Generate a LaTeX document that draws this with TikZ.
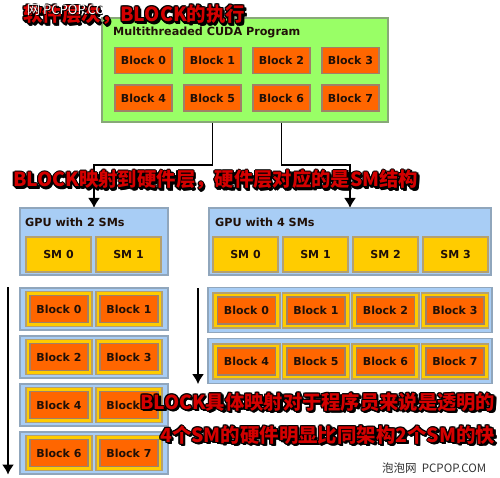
\documentclass[tikz,border=0pt]{standalone}
\usepackage{fontspec}
\usepackage{graphicx}
\setmainfont{DejaVu Sans}
\newfontfamily\cjk{Noto Sans CJK SC}
\usetikzlibrary{arrows.meta}

\definecolor{progfill}{HTML}{99FF66}
\definecolor{progline}{HTML}{88A878}
\definecolor{blkfill}{HTML}{FF6600}
\definecolor{blkline}{HTML}{A08068}
\definecolor{gpufill}{HTML}{A8CDF5}
\definecolor{gpuline}{HTML}{90A6BC}
\definecolor{smfill}{HTML}{FFCC00}
\definecolor{smline}{HTML}{B4A070}
\definecolor{hotred}{HTML}{D40000}
\definecolor{inktext}{HTML}{201008}

\tikzset{
  boxfont/.style={font=\bfseries\fontsize{11}{13}\selectfont,text=inktext},
  prog/.style={draw=progline,fill=progfill,line width=1.5pt},
  blk/.style={draw=blkline,fill=blkfill,line width=1.5pt,inner sep=0pt,
    minimum width=57,minimum height=26,boxfont},
  blkin/.style={draw=blkline,fill=blkfill,line width=1.2pt,inner sep=0pt,
    minimum width=58,minimum height=27,boxfont},
  gpu/.style={draw=gpuline,fill=gpufill,line width=1.2pt},
  sm/.style={draw=smline,fill=smfill,line width=1.2pt,inner sep=0pt,boxfont},
  boxtitle/.style={anchor=west,inner sep=0pt,boxfont},
  conn/.style={-{Latex[length=10pt,width=12pt]},draw=black,line width=1.8pt},
  hot/.style={anchor=west,inner sep=0pt,text=hotred,
    font=\cjk\bfseries\fontsize{20}{24}\selectfont},
  hotshade/.style={hot,text=black},
  stamp/.style={anchor=west,inner sep=0pt,text=black!80,
    font=\cjk\fontsize{11.5}{13}\selectfont}
}

% red caption with dark outline and shadow, squeezed to a given width
\newcommand{\hotlabel}[4]{%
  \foreach \dx/\dy in {-1.2/0,1.2/0,0/1.2,0/-1.2,-.9/.9,.9/.9,-.9/-.9,.9/-.9,
      1.8/-1.8,2.4/-2.4,2.4/-1.2,1.2/-2.4}
    \node[hotshade,xshift=\dx pt,yshift=\dy pt] at (#2) {\resizebox{#3pt}{!}{#4}};
  \node[hot] (#1) at (#2) {\resizebox{#3pt}{!}{#4}};}

\begin{document}
\begin{tikzpicture}[x=1pt,y=-1pt]
    \useasboundingbox[fill=white] (0,0) rectangle (500,478);

    %programma
    \node[prog,minimum width=286,minimum height=104] (prog) at (245,70) {};
    \node[boxtitle,font=\bfseries\fontsize{11.2}{13}\selectfont] (progtitle) at (113,32) {Multithreaded CUDA Program};
    \foreach \r in {0,1}{
        \foreach \c in {0,...,3}{
            \pgfmathtruncatemacro\n{4*\r+\c}
            \node[blk] (blk\n) at ({143.5+69*\c},{60.5+37.5*\r}) {Block \n};
        }
    }

    %collegamenti
    \draw[conn] (prog.south -| blk5) -- ++(0,42) -| (94,208);
    \draw[conn] (prog.south -| blk6) -- ++(0,42) -| (350,208);

    %GPU con 2 SM
    \node[gpu,minimum width=148,minimum height=67] (gpuA) at (94,241.5) {};
    \node[boxtitle,font=\bfseries\fontsize{11.2}{13}\selectfont] (gpuAtitle) at (25,222) {GPU with 2 SMs};
    \foreach \c in {0,1}
        \node[sm,minimum width=65,minimum height=35] (smA\c) at ({58.5+70*\c},254.5) {SM \c};

    %GPU con 4 SM
    \node[gpu,minimum width=282,minimum height=67] (gpuB) at (350,241.5) {};
    \node[boxtitle,font=\bfseries\fontsize{11.2}{13}\selectfont] (gpuBtitle) at (215,222) {GPU with 4 SMs};
    \foreach \c in {0,...,3}
        \node[sm,minimum width=65,minimum height=35] (smB\c) at ({245.5+70*\c},254.5) {SM \c};

    %blocchi su 2 SM
    \foreach \r in {0,...,3}{
        \node[gpu,minimum width=148,minimum height=42] (rowA\r) at (94,{309+48*\r}) {};
        \foreach \c in {0,1}{
            \pgfmathtruncatemacro\n{2*\r+\c}
            \node[sm,minimum width=66,minimum height=35] (slotA\n) at ({59+70*\c},{309+48*\r}) {};
            \node[blkin] (subA\n) at (slotA\n) {Block \n};
        }
    }

    %blocchi su 4 SM
    \foreach \r in {0,1}{
        \node[gpu,minimum width=284,minimum height=45] (rowB\r) at (350,{310+51*\r}) {};
        \foreach \c in {0,...,3}{
            \pgfmathtruncatemacro\n{4*\r+\c}
            \node[sm,minimum width=67,minimum height=35] (slotB\n) at ({246.5+69.5*\c},{310.5+51*\r}) {};
            \node[blkin] (subB\n) at (slotB\n) {Block \n};
        }
    }

    %frecce del tempo
    \coordinate (flowA) at (8,287);
    \coordinate (flowB) at (198,288);
    \draw[conn] (flowA) -- (flowA |- rowA3.south);
    \draw[conn] (flowB) -- (flowB |- rowB1.south);

    %didascalie
    \hotlabel{capA}{23,15}{222}{软件层次，BLOCK的执行}
    \hotlabel{capB}{13,180}{405}{BLOCK映射到硬件层，硬件层对应的是SM结构}
    \hotlabel{capC}{140,402}{355}{BLOCK具体映射对于程序员来说是透明的}
    \hotlabel{capD}{160,435}{335}{4个SM的硬件明显比同架构2个SM的快}

    %filigrana
    \begin{scope}
        \clip (22,0) rectangle (102,18);
        \node[stamp,text=black,xshift=.6pt,yshift=-.6pt,font=\cjk\fontsize{13}{15}\selectfont] at (27,10) {网 PCPOP.COM};
        \node[stamp,text=white,font=\cjk\fontsize{13}{15}\selectfont] (stampA) at (27,10) {网 PCPOP.COM};
    \end{scope}
    \node[stamp] (stampB) at (382,468) {泡泡网\ \ PCPOP.COM};

    \end{tikzpicture}
\end{document}
